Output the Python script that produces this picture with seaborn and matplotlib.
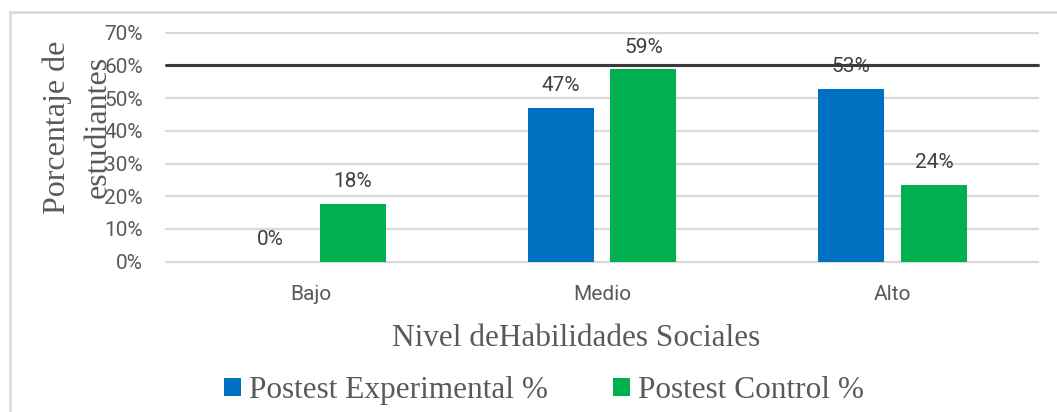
import matplotlib
matplotlib.use("Agg")
import matplotlib.pyplot as plt
from matplotlib.patches import Rectangle
from matplotlib.ticker import FixedLocator, FuncFormatter
import pandas as pd
import seaborn as sns

# Share of students per level (17 students in each group)
niveles = ["Bajo", "Medio", "Alto"]
grupos = ["Postest Experimental %", "Postest Control %"]
experimental = [0.0, 0.4706, 0.5294]
control = [0.1765, 0.5882, 0.2353]
y_ticks = [0.0, 0.1, 0.2, 0.3, 0.4, 0.5, 0.6, 0.7]
linea_ref = 0.6

colores = ["#0070C0", "#00B050"]
gris_texto = "#595959"
gris_dato = "#404040"
gris_linea = "#D9D9D9"
serif = "Liberation Serif"
sans = "Roboto"

df = pd.DataFrame({
    "nivel": niveles * 2,
    "grupo": [grupos[0]] * 3 + [grupos[1]] * 3,
    "pct": experimental + control,
})

sns.set_style("white")
plt.rcParams["font.family"] = [sans, "DejaVu Sans"]

W, H = 1057, 412
fig = plt.figure(figsize=(W / 100, H / 100), dpi=100)
ax = fig.add_axes([166 / W, 150.3 / H, 872 / W, 229 / H])

sns.barplot(data=df, x="nivel", y="pct", hue="grupo", order=niveles,
            hue_order=grupos, palette=colores, saturation=1, width=0.57,
            gap=0.205, errorbar=None, linewidth=0, ax=ax)

ax.set_ylim(0, 0.7)
ax.set_xlim(-0.5, 2.5)
ax.yaxis.set_major_locator(FixedLocator(y_ticks))
ax.yaxis.set_major_formatter(FuncFormatter(lambda v, _: f"{v:.0%}"))
ax.yaxis.grid(True, color=gris_linea, lw=1.6)
for gl in ax.get_ygridlines():
    gl.set_clip_on(False)
ax.set_axisbelow(True)
for s in ax.spines.values():
    s.set_visible(False)

ax.tick_params(axis="both", length=0, labelsize=15, labelcolor=gris_texto)
ax.tick_params(axis="y", pad=16.5)
ax.tick_params(axis="x", pad=17)

# Value labels above each bar
for cont in ax.containers:
    ax.bar_label(cont, fmt="{:.0%}", padding=9, fontsize=15, color=gris_dato,
                 family=sans)

# Dark reference line at 60 %
ax.axhline(linea_ref, color="#3A3A3A", lw=2.2, zorder=6, clip_on=False)

# Axis titles
ax.set_ylabel("")
ax.set_xlabel("Nivel deHabilidades Sociales", fontsize=22.5, family=serif,
              color=gris_texto)
ax.xaxis.set_label_coords((576.5 - 166) / 872, (66 - 150.3) / 229)
ax.xaxis.label.set_va("baseline")

fig.text(57.5 / W, 1 - 127 / H, "Porcentaje de", rotation=90, ha="center",
         va="center", fontsize=23, family=serif, color=gris_texto)
fig.text(98.5 / W, 1 - 127 / H, "estudiantes", rotation=90, ha="center",
         va="center", fontsize=23, family=serif, color=gris_texto)

# Legend below the chart
handles, labels = ax.get_legend_handles_labels()
ax.get_legend().remove()
fig.legend(handles, labels, loc="center", bbox_to_anchor=(544 / W, 21.5 / H),
           bbox_transform=fig.transFigure, ncol=2, frameon=False,
           prop={"family": serif, "size": 22.5}, labelcolor=gris_texto,
           handlelength=0.53, handleheight=0.55, handletextpad=0.25,
           columnspacing=2.1, borderpad=0)

# Light frame around the chart area
fig.patches.append(Rectangle((10 / W, -0.1), 1.2, 1 - 12 / H + 0.1,
                             transform=fig.transFigure, fill=False,
                             edgecolor=gris_linea, lw=1.8))

fig.savefig("out.png", dpi=100)
